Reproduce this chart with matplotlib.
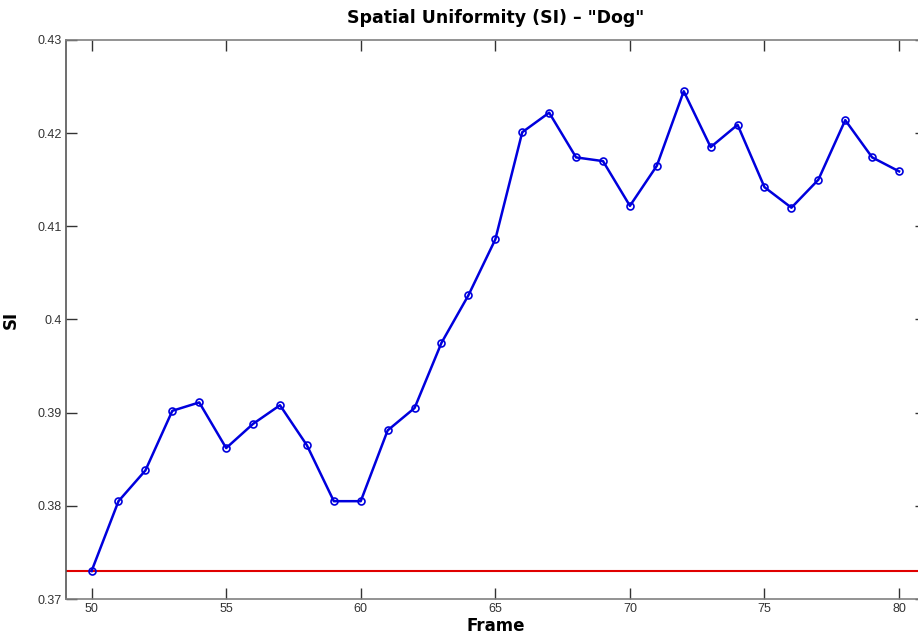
import matplotlib
matplotlib.use("Agg")
import matplotlib.pyplot as plt

frames = list(range(50, 81))
si_values = [0.3730, 0.3805, 0.3838, 0.3902, 0.3911, 0.3862, 0.3888, 0.3908,
             0.3865, 0.3805, 0.3805, 0.3881, 0.3905, 0.3975, 0.4026, 0.4086,
             0.4201, 0.4222, 0.4174, 0.4170, 0.4122, 0.4165, 0.4245, 0.4185,
             0.4209, 0.4142, 0.4120, 0.4150, 0.4214, 0.4174, 0.4159]
baseline = 0.3730
x_ticks = [50, 55, 60, 65, 70, 75, 80]
y_ticks = [0.37, 0.38, 0.39, 0.40, 0.41, 0.42, 0.43]
y_tick_labels = ["0.37", "0.38", "0.39", "0.4", "0.41", "0.42", "0.43"]

fig = plt.figure(figsize=(9.18, 6.38), dpi=100)
ax = fig.add_axes([66/918, 39/638, 860/918, 559/638])

ax.axhline(baseline, color="#e00000", lw=1.5, zorder=2)
ax.plot(frames, si_values, color="#0000dd", lw=1.8, marker="o", markersize=5,
        markerfacecolor="none", markeredgecolor="#0000dd", markeredgewidth=1.2, zorder=3)

ax.set_xlim(49.05, 81)
ax.set_ylim(0.37, 0.43)
ax.set_xticks(x_ticks)
ax.set_yticks(y_ticks)
ax.set_yticklabels(y_tick_labels)
ax.tick_params(direction="in", length=8, width=1, top=True, right=True,
               labelsize=9, labelcolor="#333333", color="#333333", pad=3)
for lab in ax.get_xticklabels() + ax.get_yticklabels():
    lab.set_family("Liberation Sans")
for s in ax.spines.values():
    s.set_color("#808080")
    s.set_linewidth(1.2)
ax.spines["left"].set_color("#555555")

ax.set_title('Spatial Uniformity (SI) \u2013 "Dog"', fontsize=12.5, fontweight="heavy",
             family="DejaVu Sans", pad=12)
ax.set_xlabel("Frame", fontsize=12, fontweight="heavy", family="DejaVu Sans", labelpad=1)
ax.set_ylabel("SI", fontsize=12, fontweight="heavy", family="DejaVu Sans")
ax.yaxis.set_label_coords(-46/860, 0.5)

fig.savefig("out.png", dpi=100)
